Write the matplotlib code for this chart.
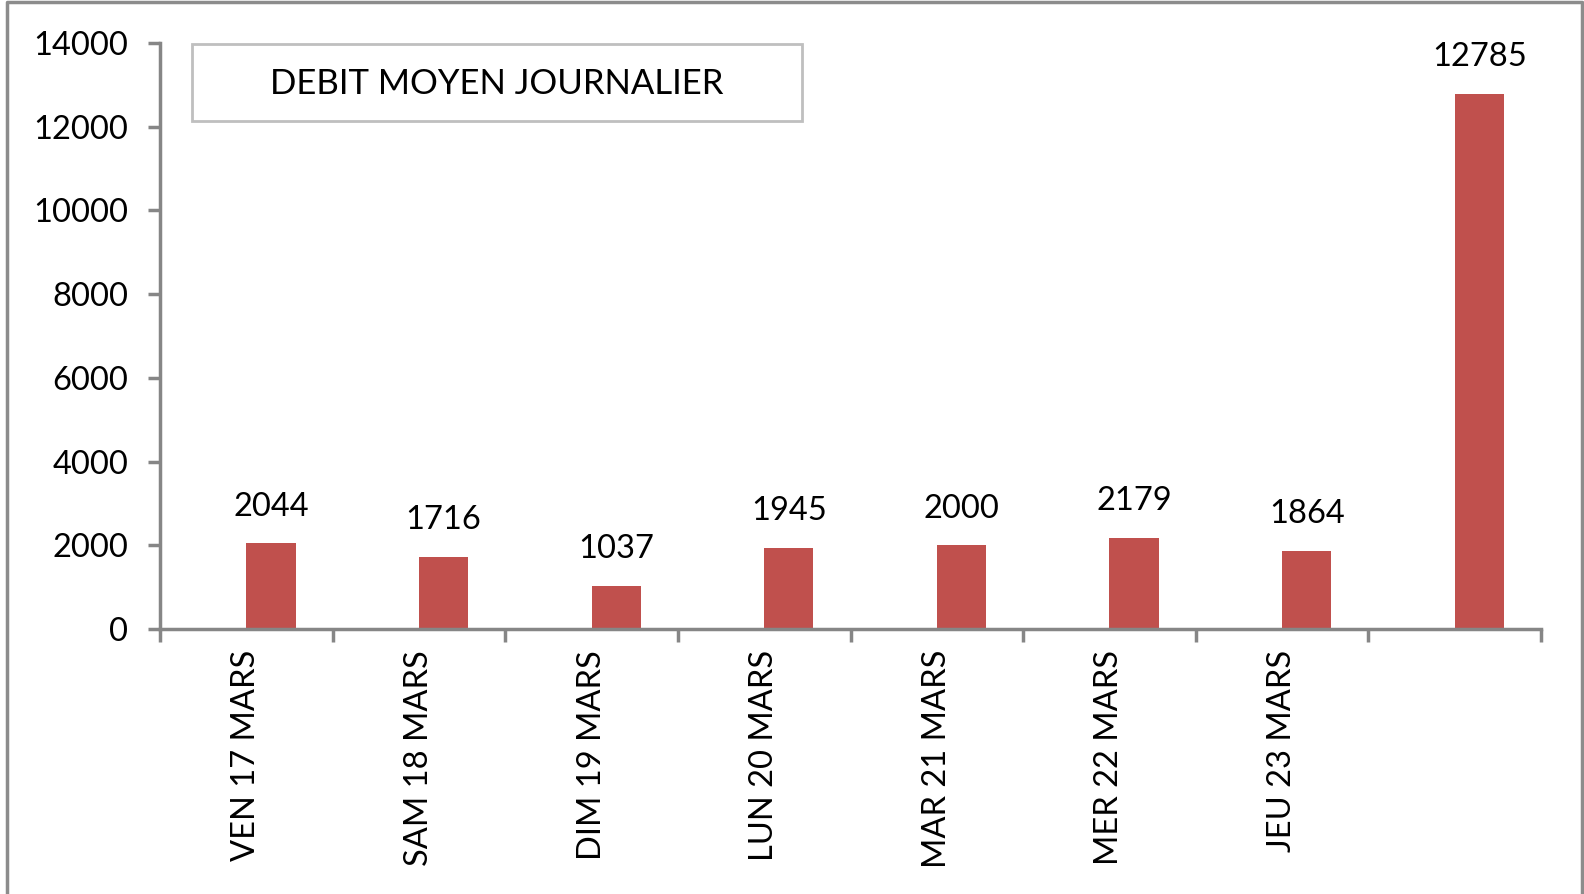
import matplotlib.pyplot as plt
from matplotlib.lines import Line2D
from matplotlib.patches import Rectangle
from matplotlib.ticker import FixedLocator

# --- Données ---
jours = ['VEN 17 MARS', 'SAM 18 MARS', 'DIM 19 MARS', 'LUN 20 MARS',
         'MAR 21 MARS', 'MER 22 MARS', 'JEU 23 MARS', '']
debits = [2044, 1716, 1037, 1945, 2000, 2179, 1864, 12785]
y_ticks = [0, 2000, 4000, 6000, 8000, 10000, 12000, 14000]

plt.rcParams['font.family'] = ['Lato', 'DejaVu Sans']

couleur_barre = '#C0504D'
gris_axe = '#868686'
fs = 23.5

fig = plt.figure(figsize=(15.84, 8.94), dpi=100)
ax = fig.add_axes([160 / 1584, 1 - 629 / 894, 1381 / 1584, (629 - 43) / 894])

x = list(range(len(debits)))
# barres décalées à droite du centre de la catégorie (style Excel)
bars = ax.bar(x, debits, width=0.285, align='edge', color=couleur_barre,
              edgecolor='none', zorder=2)

for b, v in zip(bars, debits):
    ax.annotate(str(v), (b.get_x() + b.get_width() / 2, v),
                xytext=(0, 20), textcoords='offset points',
                ha='center', va='baseline', fontsize=fs, color='black')

ax.set_xlim(-0.5, len(debits) - 0.5)
ax.set_ylim(0, 14000)
ax.set_yticks(y_ticks)
ax.set_yticklabels([str(t) for t in y_ticks], fontsize=fs)

ax.set_xticks(x)
ax.set_xticklabels(jours, rotation=90, fontsize=fs, va='top')
ax.tick_params(axis='x', which='major', length=0, pad=15)
ax.xaxis.set_minor_locator(FixedLocator([i - 0.5 for i in range(len(debits) + 1)]))
ax.tick_params(axis='x', which='minor', length=9, width=2.5, color=gris_axe,
               direction='out')
ax.tick_params(axis='y', length=9, width=2.5, color=gris_axe, pad=14)

for s in ['top', 'right']:
    ax.spines[s].set_visible(False)
for s in ['left', 'bottom']:
    ax.spines[s].set_color(gris_axe)
    ax.spines[s].set_linewidth(2.5)

# cadre du titre
fig.add_artist(Rectangle((192 / 1584, 1 - 121 / 894), 610 / 1584, 77 / 894,
                         transform=fig.transFigure, fc='white', ec='#BFBFBF', lw=2))
fig.text(497 / 1584, 1 - 84 / 894, 'DEBIT MOYEN JOURNALIER', ha='center',
         va='center', fontsize=25)

# bordure de la zone de graphique
fx = [7 / 1584, 7 / 1584, 1582 / 1584, 1582 / 1584]
fy = [0, 1 - 2 / 894, 1 - 2 / 894, 0]
fig.add_artist(Line2D(fx, fy, color='#8C8C8C', lw=2.5, transform=fig.transFigure))

fig.savefig('out.png', dpi=100, facecolor='white')
